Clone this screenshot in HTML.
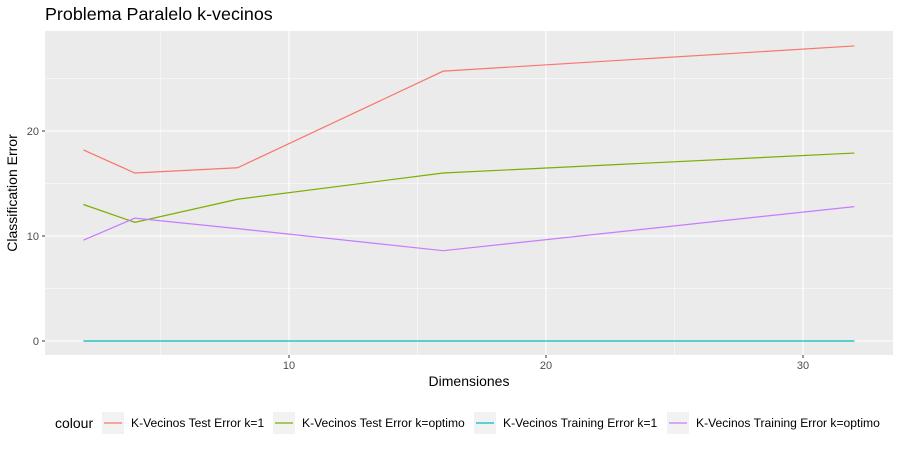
<!DOCTYPE html>
<html><head><meta charset="utf-8"><style>
body{margin:0;background:#fff;font-family:"Liberation Sans",sans-serif}
</style></head><body>
<svg id="c" width="900" height="449" xmlns="http://www.w3.org/2000/svg" font-family="Liberation Sans, sans-serif">
<text x="45" y="20" font-size="17.9" fill="#000">Problema Paralelo k-vecinos</text>
<rect x="45" y="31" width="848" height="324" fill="#ebebeb"/>
<g id="grid"></g>
<g id="series"></g>
<g id="ticks"></g>
<text x="469" y="386" font-size="14" text-anchor="middle">Dimensiones</text>
<text transform="translate(17,193) rotate(-90)" font-size="14" text-anchor="middle">Classification Error</text>
<g id="legend" font-size="12.1"></g>
</svg>
<script>
const xs = [2, 4, 8, 16, 32];
const testK1 = [18.2, 16.0, 16.5, 25.7, 28.1];
const testOpt = [13.0, 11.3, 13.5, 16.0, 17.9];
const trainK1 = [0, 0, 0, 0, 0];
const trainOpt = [9.6, 11.7, 10.7, 8.6, 12.8];
const seriesNames = ["K-Vecinos Test Error k=1","K-Vecinos Test Error k=optimo","K-Vecinos Training Error k=1","K-Vecinos Training Error k=optimo"];
const xTicks = [10, 20, 30];
const yTicks = [0, 10, 20];
const xMinor = [5, 15, 25];
const yMinor = [5, 15, 25];

const NS = "http://www.w3.org/2000/svg";
const X = v => 83.4 + (v - 2) * 25.7;
const Y = v => 341 - v * 10.5;
function mk(tag, attrs, parent){const e=document.createElementNS(NS,tag);for(const k in attrs)e.setAttribute(k,attrs[k]);parent.appendChild(e);return e;}
const grid=document.getElementById('grid'), ticks=document.getElementById('ticks'), ser=document.getElementById('series'), leg=document.getElementById('legend');
xMinor.forEach(v=>{const l=mk('line',{x1:X(v),x2:X(v),y1:31,y2:355,stroke:'#fff','stroke-width':0.5},grid);

});
yMinor.forEach(v=>{const l=mk('line',{x1:45,x2:893,y1:Y(v),y2:Y(v),stroke:'#fff','stroke-width':0.5},grid);

});
xTicks.forEach(v=>{const l=mk('line',{x1:X(v),x2:X(v),y1:31,y2:355,stroke:'#fff','stroke-width':1.1},grid);


mk('line',{x1:X(v),x2:X(v),y1:355,y2:358,stroke:'#333'},ticks);
const t=mk('text',{x:X(v),y:369,'font-size':11,fill:'#4d4d4d','text-anchor':'middle'},ticks);t.textContent=v;

});
yTicks.forEach(v=>{const l=mk('line',{x1:45,x2:893,y1:Y(v),y2:Y(v),stroke:'#fff','stroke-width':1.1},grid);


mk('line',{x1:42,x2:45,y1:Y(v),y2:Y(v),stroke:'#333'},ticks);
const t=mk('text',{x:39,y:Y(v)+4,'font-size':11,fill:'#4d4d4d','text-anchor':'end'},ticks);t.textContent=v;

});
const data=[testK1,testOpt,trainK1,trainOpt], cols=['#f8766d','#7cae00','#00bfc4','#c77cff'];
data.forEach((d,i)=>{const p=mk('polyline',{points:xs.map((x,j)=>X(x)+','+Y(d[j])).join(' '),fill:'none',stroke:cols[i],'stroke-width':1.2},ser);

});
const lt=mk('text',{x:55,y:428,'font-size':14},leg);lt.textContent='colour';


const kx=[102,273,474,667];
seriesNames.forEach((n,i)=>{const g=mk('g',{},leg);


mk('rect',{x:kx[i],y:412,width:22,height:22,fill:'#f2f2f2'},g);
mk('line',{x1:kx[i]+2,x2:kx[i]+20,y1:423,y2:423,stroke:cols[i],'stroke-width':1.3},g);
const t=mk('text',{x:kx[i]+29,y:427,'font-size':12.1},g);t.textContent=n;});
</script>
</body></html>
